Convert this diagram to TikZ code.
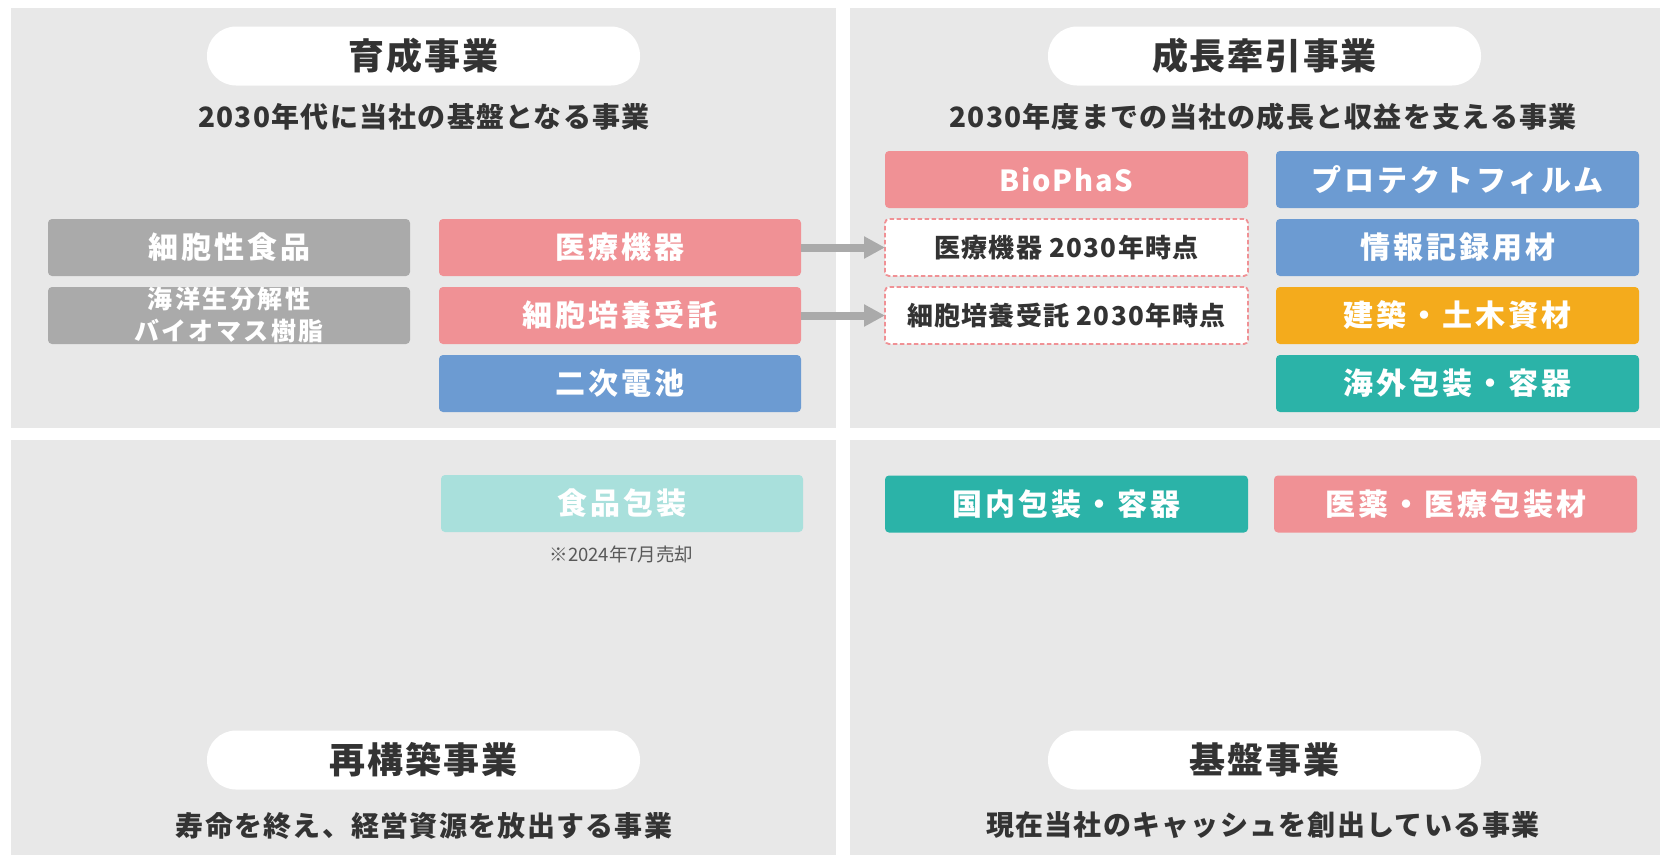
\documentclass[tikz,border=0pt]{standalone}
\usepackage{fontspec}
\setmainfont{Noto Sans CJK JP}
\usetikzlibrary{arrows.meta}
\definecolor{panelbg}{HTML}{E8E8E8}
\definecolor{txt}{HTML}{333333}
\definecolor{notec}{HTML}{595959}
\definecolor{pinkc}{HTML}{F09195}
\definecolor{bluec}{HTML}{6C9BD2}
\definecolor{orangec}{HTML}{F4AB1C}
\definecolor{tealc}{HTML}{2BB3A8}
\definecolor{lteal}{HTML}{A9E0DC}
\definecolor{grayc}{HTML}{AAAAAA}
\definecolor{arrgray}{HTML}{AAAAAA}
\newcommand\jpsize[3]{\fontsize{#1}{#2}\selectfont\addfontfeature{LetterSpace=#3}}
\tikzset{
  panel/.style={fill=panelbg, draw=none},
  pill/.style={fill=white, rounded corners=29pt, minimum width=433pt, minimum height=59pt,
    inner sep=0pt, outer sep=0pt, text=txt, font=\bfseries\jpsize{36}{40}{5}},
  subt/.style={inner sep=0pt, text=txt, font=\bfseries\jpsize{28}{32}{4.5}},
  bizbox/.style={minimum width=362pt, minimum height=57pt, inner sep=0pt, outer sep=0pt,
    rounded corners=4pt, text=white, font=\bfseries\jpsize{30}{34}{10}},
  dbox/.style={bizbox, fill=white, draw=pinkc, dash pattern=on 4.5pt off 2.5pt,
    line width=1.8pt, text=txt, font=\bfseries\jpsize{26}{30}{5}},
  arr/.style={draw=arrgray, line width=8pt, -{Triangle[length=21pt,width=21pt]}},
  notet/.style={inner sep=0pt, text=notec, font=\jpsize{18.5}{22}{0}}
}
\begin{document}
\begin{tikzpicture}[x=1pt,y=-1pt]
\useasboundingbox (0,0) rectangle (1660,855);
\fill[white] (0,0) rectangle (1660,855);
% panels
\fill[panel] (11,8) rectangle (836,428);
\fill[panel] (850,8) rectangle (1660,428);
\fill[panel] (11,440) rectangle (836,855);
\fill[panel] (850,440) rectangle (1660,855);
% titles
\node[pill] (t1) at (423.5,56) {育成事業};
\node[pill] (t2) at (1264.5,56) {成長牽引事業};
\node[pill] (t3) at (423.5,760) {再構築事業};
\node[pill] (t4) at (1264.5,760) {基盤事業};
\node[subt] (s1) at (424,117) {2030年代に当社の基盤となる事業};
\node[subt] (s2) at (1263,117) {2030年度までの当社の成長と収益を支える事業};
\node[subt] (s3) at (424,825.5) {寿命を終え、経営資源を放出する事業};
\node[subt] (s4) at (1263,825.5) {現在当社のキャッシュを創出している事業};
% top-left boxes
\node[bizbox, fill=grayc] (cellfood) at (229,247.5) {細胞性食品};
\node[bizbox, fill=grayc, align=center, font=\bfseries\jpsize{25}{32}{10}] (bioplastic) at (229,315.5) {海洋生分解性\\バイオマス樹脂};
\node[bizbox, fill=pinkc] (med) at (620,247.5) {医療機器};
\node[bizbox, fill=pinkc] (cult) at (620,315.5) {細胞培養受託};
\node[bizbox, fill=bluec] (batt) at (620,383.5) {二次電池};
% top-right boxes
\node[bizbox, fill=pinkc, minimum width=363pt, font=\bfseries\jpsize{29}{34}{6}] (biophas) at (1066.5,179.5) {BioPhaS};
\node[dbox, minimum width=363pt] (med30) at (1066.5,247.5) {医療機器 2030年時点};
\node[dbox, minimum width=363pt] (cult30) at (1066.5,315.5) {細胞培養受託 2030年時点};
\node[bizbox, fill=bluec, minimum width=363pt] (protect) at (1457.5,179.5) {プロテクトフィルム};
\node[bizbox, fill=bluec, minimum width=363pt] (info) at (1457.5,247.5) {情報記録用材};
\node[bizbox, fill=orangec, minimum width=363pt] (build) at (1457.5,315.5) {建築・土木資材};
\node[bizbox, fill=tealc, minimum width=363pt] (overseas) at (1457.5,383.5) {海外包装・容器};
% bottom boxes
\node[bizbox, fill=lteal] (foodpkg) at (622,503.5) {食品包装};
\node[notet] (note) at (621.5,554) {※2024年7月売却};
\node[bizbox, fill=tealc, minimum width=363pt] (domestic) at (1066.5,504) {国内包装・容器};
\node[bizbox, fill=pinkc, minimum width=363pt] (pharma) at (1455.5,504) {医薬・医療包装材};
% arrows
\draw[arr] (med.east) -- (med30.west);
\draw[arr] (cult.east) -- (cult30.west);
\end{tikzpicture}
\end{document}
